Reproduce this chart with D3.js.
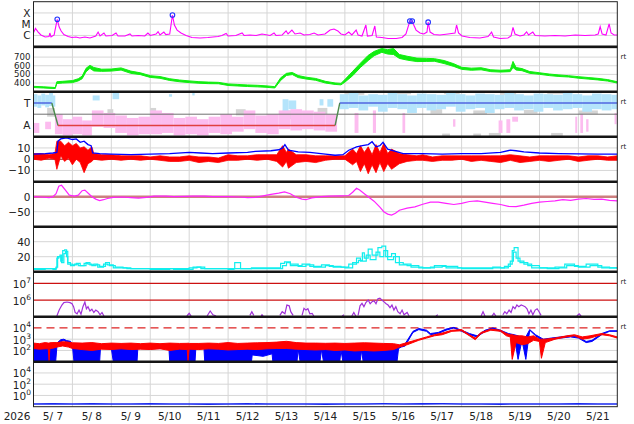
<!DOCTYPE html>
<html lang="en">
<head>
<meta charset="UTF-8">
<title>Space weather summary 2026 May</title>
<style>
  body { margin: 0; background: #fff; }
  svg text { font-family: "DejaVu Sans", sans-serif; fill: #222; }
</style>
<script src="https://d3js.org/d3.v7.min.js"></script>
</head>
<body>
<svg id="chart" width="634" height="424"></svg>
<script>
// time axis: days since 2026-05-07 00:00 UT
const yearLabel = "2026";
const dayLabels = ["5/ 7","5/ 8","5/ 9","5/10","5/11","5/12","5/13","5/14","5/15","5/16","5/17","5/18","5/19","5/20","5/21"];

// panel 1: X-ray flux [day, W/m2], flares marked with circles
const xrayFlux = [[0,1.7e-6],[0.05,4.2e-6],[0.12,2e-6],[0.19,1.1e-6],[0.3,7.3e-7],[0.4,8.1e-7],[0.42,1.65e-6],[0.45,7.3e-7],[0.53,1.1e-6],[0.55,2.5e-6],[0.61,2.7e-5],[0.66,5.6e-6],[0.71,2.5e-6],[0.78,1.2e-6],[0.89,8.1e-7],[0.99,6.6e-7],[1.09,7.3e-7],[1.19,5.9e-7],[1.32,7.3e-7],[1.45,5.9e-7],[1.6,8.9e-7],[1.66,2e-6],[1.71,8.9e-7],[1.81,1.65e-6],[1.86,8.9e-7],[2.02,1e-6],[2.12,1.65e-6],[2.17,8.9e-7],[2.35,8.9e-7],[2.48,1.35e-6],[2.53,8.9e-7],[2.69,1e-6],[2.86,8.9e-7],[2.94,1.65e-6],[3.0,1e-6],[3.15,1.35e-6],[3.2,2.2e-6],[3.25,1.1e-6],[3.35,2e-6],[3.4,1.2e-6],[3.5,1.35e-6],[3.57,6.6e-5],[3.62,8.5e-6],[3.69,3e-6],[3.79,1.65e-6],[3.92,1e-6],[4.07,6.6e-7],[4.28,5.9e-7],[4.48,6.6e-7],[4.61,7.3e-7],[4.74,8.1e-7],[4.84,1e-6],[4.95,1.5e-6],[5.0,8.9e-7],[5.2,1e-6],[5.36,1.65e-6],[5.41,1e-6],[5.56,1.1e-6],[5.72,1e-6],[5.87,1.35e-6],[6.08,1e-6],[6.18,1.65e-6],[6.23,1e-6],[6.39,1.1e-6],[6.49,2.5e-6],[6.54,1.35e-6],[6.64,3e-6],[6.72,1.35e-6],[6.85,1.65e-6],[6.95,1.1e-6],[7.1,1.2e-6],[7.21,1.65e-6],[7.31,1.1e-6],[7.49,1.35e-6],[7.62,3e-6],[7.72,3.7e-6],[7.82,2.5e-6],[7.9,1.35e-6],[8.0,1.1e-6],[8.1,2e-6],[8.18,1.1e-6],[8.29,3e-6],[8.34,1.1e-6],[8.44,8.9e-7],[8.54,8.5e-6],[8.58,8.9e-7],[8.7,1e-6],[8.77,6.9e-6],[8.81,7.3e-7],[8.95,6.6e-7],[9.11,5.4e-7],[9.32,5.4e-7],[9.47,6.6e-7],[9.57,1.35e-6],[9.67,1.9e-5],[9.73,1.9e-5],[9.77,8.5e-6],[9.83,3e-6],[9.93,1.65e-6],[10.03,1.35e-6],[10.11,2e-6],[10.14,1.5e-5],[10.19,2e-6],[10.29,1.2e-6],[10.44,1.1e-6],[10.65,1.35e-6],[10.83,1.65e-6],[10.87,8.5e-6],[10.92,1.65e-6],[11.01,8.9e-7],[11.21,6.6e-7],[11.47,5.9e-7],[11.68,8.1e-7],[11.77,2e-6],[11.82,7.3e-7],[11.99,5.4e-7],[12.19,5.9e-7],[12.27,8.9e-7],[12.32,5.3e-6],[12.37,1.35e-6],[12.5,8.9e-7],[12.6,1.1e-6],[12.67,2.1e-6],[12.72,1.1e-6],[12.83,2e-6],[12.89,1e-6],[13.14,8.9e-7],[13.4,1e-6],[13.66,8.9e-7],[13.92,1.1e-6],[14.17,1e-6],[14.43,1.1e-6],[14.51,1.35e-6],[14.56,6e-6],[14.61,1.35e-6],[14.71,1.1e-6],[14.79,1.05e-5],[14.84,1.65e-6],[14.92,1.1e-6],[15,1.1e-6]];
const xrayFlares = [[0.61,2.7e-5],[3.57,6.6e-5],[9.67,1.9e-5],[9.73,1.9e-5],[10.14,1.5e-5]];
const xrayTicks = [1e-4, 1e-5, 1e-6];
const xrayClasses = ["X", "M", "C"];

// panel 2: solar wind speed [day, low, high] km/s
const windSpeed = [[0,348,362],[0.25,343,357],[0.5,337,350],[0.56,337,348],[0.6,395,415],[0.75,400,420],[1.0,405,428],[1.15,425,450],[1.25,450,480],[1.35,530,570],[1.45,570,605],[1.55,540,580],[1.75,535,560],[2.0,538,562],[2.25,550,575],[2.5,512,538],[2.75,497,518],[3.0,465,485],[3.25,455,475],[3.5,430,450],[3.75,415,435],[4.0,405,425],[4.25,398,416],[4.5,393,411],[4.75,392,408],[5.0,372,390],[5.25,366,384],[5.5,360,378],[5.75,356,374],[6.0,350,367],[6.2,343,358],[6.35,430,460],[6.5,488,512],[6.65,498,522],[6.8,463,487],[7.0,447,468],[7.25,432,453],[7.5,400,420],[7.75,384,401],[7.9,379,396],[8.0,410,440],[8.2,485,535],[8.4,580,630],[8.6,660,720],[8.75,715,765],[8.95,755,800],[9.1,735,785],[9.25,730,800],[9.4,685,730],[9.6,665,710],[9.85,648,688],[10.1,650,685],[10.3,652,682],[10.55,625,660],[10.8,592,623],[11.0,558,582],[11.25,548,572],[11.5,553,577],[11.75,532,553],[12.0,527,548],[12.25,532,553],[12.32,580,650],[12.4,550,580],[12.55,543,567],[12.75,512,533],[13.0,501,519],[13.25,486,504],[13.5,476,494],[13.75,470,485],[14.0,456,474],[14.25,446,464],[14.5,436,454],[14.75,423,440],[15,400,415]];
const speedTicks = [400, 500, 600, 700];

// panel 3: IMF sector, angle in degrees (T near 90, A near 270)
const sectorTimes = [0, 0.47, 0.63, 7.75, 7.87, 15];
const sectorAngles = [90, 90, 270, 270, 90, 90];
// scatter regions [dayFrom, dayTo, angleLow, angleHigh]
const towardDots = [[0,0.1,20,120],[0.1,0.2,30,130],[0.2,0.3,15,110],[0.3,0.4,25,125],[0.4,0.5,10,115],[0.5,0.56,30,120],[1.52,1.7,30,70],[2.03,2.2,10,60],[3.48,3.56,20,40],[4.08,4.14,10,30],[6.4,6.55,60,190],[6.55,6.75,70,140],[7.35,7.45,60,110],[7.55,7.7,60,120],[7.87,8.1,20,140],[8.1,8.35,10,130],[8.35,8.6,30,150],[8.6,8.85,20,120],[8.85,9.1,25,160],[9.1,9.35,10,130],[9.35,9.6,20,140],[9.6,9.85,30,170],[9.85,10.1,15,130],[10.1,10.35,20,150],[10.35,10.6,25,140],[10.6,10.85,10,120],[10.85,11.1,20,160],[11.1,11.35,30,140],[11.35,11.6,15,130],[11.6,11.85,20,170],[11.85,12.1,25,140],[12.1,12.35,10,130],[12.35,12.6,20,150],[12.6,12.85,30,140],[12.85,13.1,15,160],[13.1,13.35,20,130],[13.35,13.6,25,150],[13.6,13.85,10,140],[13.85,14.1,20,130],[14.1,14.35,30,160],[14.35,14.6,15,140],[14.6,14.85,20,150],[14.85,15,25,140]];
const awayDots = [[0,0.15,250,330],[0.3,0.45,240,300],[0.55,0.75,180,340],[0.75,1.0,220,350],[1.0,1.25,200,340],[1.25,1.5,230,350],[1.5,1.8,150,280],[1.8,2.1,170,290],[2.1,2.4,190,330],[2.4,2.7,210,350],[2.7,3.0,200,340],[3.0,3.3,150,340],[3.3,3.6,170,330],[3.6,3.9,210,350],[3.9,4.2,200,340],[4.2,4.5,220,350],[4.5,4.8,200,330],[4.8,5.1,180,340],[5.1,5.4,200,320],[5.4,5.7,150,300],[5.7,6.0,190,330],[6.0,6.3,180,340],[6.3,6.6,150,300],[6.6,6.9,140,310],[6.9,7.2,150,300],[7.2,7.5,160,310],[7.5,7.8,180,320],[8.25,8.35,170,330],[8.72,8.8,150,330],[9.48,9.55,170,330],[10.78,10.84,220,280],[11.95,12.05,230,330],[12.15,12.25,220,330],[12.3,12.45,200,240],[13.92,13.97,200,330],[14.05,14.12,180,330],[14.2,14.26,220,320],[14.93,14.98,170,260]];
const unsetDots = [[0.35,0.55,130,200],[1.9,2.05,140,200],[3.0,3.15,130,180],[5.2,5.45,140,190],[6.4,6.75,150,220],[7.3,7.55,130,180],[8.0,8.5,0,25],[9.2,9.7,0,20],[10.2,10.5,140,175],[10.55,10.95,0,20],[11.3,11.65,150,180],[12.0,12.4,0,25],[12.6,12.95,145,175],[13.2,13.7,0,20],[14.0,14.5,150,180],[10.5,10.7,335,360],[11.3,11.5,335,360],[11.7,12.0,330,360],[13.3,13.6,330,360]];

// panel 4: IMF Bt [day, nT] and Bz [day, low, high]
const imfBt = [[0,4.5],[0.3,5],[0.5,5.5],[0.6,6],[0.63,16],[0.7,18],[0.85,19],[1.0,17.5],[1.1,18],[1.2,15],[1.3,16],[1.4,13],[1.48,12],[1.52,5.5],[1.7,5],[2.0,4.5],[2.5,4],[3.0,4.5],[3.5,5],[4.0,6],[4.3,5.5],[4.6,5],[5.0,5.5],[5.5,6],[5.7,7],[6.1,7.5],[6.3,8.4],[6.4,10],[6.46,13],[6.55,8],[6.8,6.5],[7.1,6],[7.5,4.5],[7.75,3.5],[7.95,4],[8.1,8],[8.3,11],[8.45,12],[8.6,13],[8.7,15.5],[8.8,11],[8.9,12],[8.98,15],[9.1,9],[9.3,7],[9.5,5],[10.0,5],[10.5,4.5],[11.0,5],[11.5,5],[12.0,6],[12.25,8],[12.4,7.5],[12.6,6.5],[13.0,5.5],[13.5,5],[14.0,4.8],[14.5,4.5],[15,4.5]];
const imfBz = [[0,0,5],[0.2,-1,5],[0.4,1,4],[0.55,0,5],[0.6,-9,16],[0.7,3,16],[0.8,-2,12],[0.9,1,15],[1.0,-5,12],[1.1,0,14],[1.2,-3,10],[1.3,-12,11],[1.4,-4,8],[1.5,-2,11],[1.55,0,5],[1.75,-1,4],[2.0,0,4],[2.25,-1,3],[2.5,0,3],[2.75,-1,3],[3.0,0,2],[3.25,-1,3],[3.5,-2,2],[3.75,-2,2],[4.0,-1,3],[4.25,-3,2],[4.5,-2,2],[4.75,-3,1],[5.0,-1,4],[5.25,-1,3],[5.5,0,3],[5.75,-1,4],[6.0,0,4],[6.25,-2,4],[6.4,-7,12],[6.5,-2,6],[6.55,-8,9],[6.75,-3,4],[7.0,-2,4],[7.25,-3,3],[7.5,-1,3],[7.75,0,3],[8.0,0,3],[8.2,-5,9],[8.3,-2,5],[8.4,-11,12],[8.5,-4,6],[8.6,-13,11],[8.7,-5,4],[8.8,-12,13],[8.9,-3,6],[9.0,-11,14],[9.1,-4,5],[9.2,-9,9],[9.4,-4,5],[9.6,-2,4],[9.85,-1,3],[10.0,-1,4],[10.25,-2,2],[10.5,-1,3],[10.75,-1,3],[11.0,0,3],[11.25,-2,3],[11.5,-1,3],[11.75,-2,3],[12.0,-3,3],[12.25,-1,4],[12.5,-3,3],[12.75,-2,2],[13.0,-1,3],[13.25,-2,3],[13.5,-1,3],[13.75,0,3],[14.0,-2,2],[14.25,-1,3],[14.5,0,3],[14.75,-1,2],[15,-1,3]];
const imfTicks = [10, 0, -10];

// panel 5: Dst [day, nT]
const dstIndex = [[0,0],[0.2,-1],[0.4,-3],[0.5,0],[0.58,10],[0.65,35],[0.72,38],[0.8,25],[0.92,5],[1.05,2],[1.15,5],[1.25,20],[1.32,22],[1.42,10],[1.5,0],[1.6,-8],[1.7,-13],[1.8,-10],[1.9,-6],[2.05,-2],[2.3,-1],[2.5,-3],[2.7,-5],[2.9,-2],[3.1,2],[3.4,2],[3.6,0],[3.9,1],[4.1,2],[4.4,2],[4.6,0],[5.0,0],[5.3,-1],[5.5,-3],[5.7,-2],[5.9,3],[6.1,8],[6.3,12],[6.45,16],[6.6,10],[6.75,-2],[6.9,-8],[7.0,-10],[7.15,-4],[7.4,0],[7.6,2],[7.9,3],[8.1,4],[8.2,15],[8.3,28],[8.38,22],[8.5,10],[8.6,0],[8.75,-15],[8.9,-35],[9.0,-50],[9.1,-58],[9.2,-61],[9.3,-55],[9.4,-45],[9.6,-38],[9.8,-34],[10.0,-25],[10.2,-18],[10.4,-18],[10.6,-22],[10.8,-26],[11.0,-22],[11.2,-16],[11.4,-14],[11.6,-18],[11.8,-22],[12.0,-26],[12.2,-32],[12.4,-33],[12.6,-28],[12.8,-22],[13.0,-18],[13.2,-16],[13.4,-14],[13.6,-10],[13.8,-12],[14.0,-8],[14.2,-6],[14.4,-9],[14.6,-8],[14.8,-12],[15,-14]];
const dstTicks = [0, -50];

// panel 6: proton density, two sources [day, /cc]
const densityA = [[0,3],[0.3,4],[0.5,3],[0.58,5],[0.6,18],[0.65,20],[0.7,14],[0.75,28],[0.8,29],[0.85,20],[0.88,12],[0.95,8],[1.05,10],[1.15,8],[1.3,11],[1.4,10],[1.5,8],[1.6,9],[1.7,7],[1.85,12],[1.95,8],[2.1,6],[2.3,5],[2.5,4],[3.0,3],[3.5,4],[4.0,5],[4.2,6],[4.4,4],[5.0,3],[5.15,4],[5.17,12],[5.3,12],[5.32,4],[5.8,4],[6.2,4],[6.4,8],[6.5,12],[6.6,10],[6.8,7],[7.0,9],[7.2,6],[7.5,8],[7.7,6],[8.0,5],[8.2,12],[8.35,15],[8.45,25],[8.5,18],[8.6,30],[8.7,22],[8.85,32],[8.95,34],[9.05,20],[9.2,24],[9.3,12],[9.5,10],[9.7,6],[10.0,5],[10.3,8],[10.6,5],[11.0,4],[11.5,4],[11.8,6],[12.0,5],[12.2,10],[12.3,28],[12.35,32],[12.45,14],[12.6,10],[12.8,5],[13.2,4],[13.5,5],[13.7,8],[14.0,6],[14.3,8],[14.6,5],[15,4]];
const densityB = [[0,4],[0.5,4],[0.58,6],[0.62,20],[0.68,22],[0.72,12],[0.78,24],[0.82,27],[0.88,10],[1.0,9],[1.1,11],[1.2,8],[1.35,12],[1.45,9],[1.55,10],[1.65,6],[1.8,10],[1.9,9],[2.05,5],[2.4,4],[3.0,4],[3.6,3],[4.1,6],[4.3,4],[5.0,4],[5.6,5],[6.1,5],[6.35,11],[6.45,13],[6.6,8],[6.9,10],[7.1,7],[7.4,9],[7.6,7],[7.9,6],[8.1,10],[8.3,18],[8.4,14],[8.55,22],[8.65,16],[8.8,26],[8.9,20],[9.0,28],[9.1,16],[9.25,20],[9.4,9],[9.6,8],[9.9,5],[10.2,6],[10.5,7],[10.9,5],[11.4,5],[11.7,5],[12.1,7],[12.25,14],[12.33,26],[12.4,18],[12.5,12],[12.7,8],[13.0,5],[13.4,6],[13.65,10],[13.9,7],[14.2,10],[14.5,6],[14.8,5],[15,5]];
const densityTicks = [40, 20];

// panel 7: proton flux [day, value], null = below scale
const protonFlux = [[0.55,null],[0.6,1.1e5],[0.66,2.5e5],[0.73,5e5],[0.78,7e5],[0.86,7.6e5],[0.94,7e5],[0.99,6e5],[1.03,4e5],[1.07,1.8e5],[1.12,1.5e5],[1.17,2.5e5],[1.22,1.4e5],[1.27,4e5],[1.32,7.6e5],[1.36,3e5],[1.4,4e5],[1.45,2.2e5],[1.5,2.8e5],[1.55,1.8e5],[1.6,2.5e5],[1.66,2e5],[1.71,1.3e5],[1.76,1.8e5],[1.81,1.1e5],[1.84,null],[3.94,1.1e5],[4.0,1.6e5],[4.05,1.1e5],[4.1,null],[4.46,1.1e5],[4.54,2.2e5],[4.61,1.3e5],[4.69,1.1e5],[4.72,null],[5.56,1.2e5],[5.61,2e5],[5.66,1.2e5],[5.7,null],[5.85,1.1e5],[5.87,1.3e5],[5.9,1.1e5],[5.93,null],[6.33,1.2e5],[6.39,2e5],[6.46,1.5e5],[6.51,5e5],[6.57,4.5e5],[6.61,2e5],[6.67,1.2e5],[6.7,null],[6.9,1.2e5],[6.95,3.2e5],[7.0,2.5e5],[7.05,3e5],[7.1,1.5e5],[7.16,1.6e5],[7.2,1.1e5],[7.23,null],[7.93,1.1e5],[7.98,1.3e5],[8.02,null],[8.18,1.1e5],[8.23,1.8e5],[8.28,1.1e5],[8.3,null],[8.34,1.2e5],[8.39,4.5e5],[8.44,6.3e5],[8.49,4e5],[8.54,7e5],[8.6,1e6],[8.65,6e5],[8.7,8e5],[8.75,9e5],[8.8,6e5],[8.85,1.2e6],[8.9,1.3e6],[8.95,1e6],[9.0,8e5],[9.06,6e5],[9.11,5e5],[9.16,3.5e5],[9.21,5e5],[9.26,2.5e5],[9.31,4e5],[9.36,2e5],[9.42,1.5e5],[9.47,2.5e5],[9.52,1.3e5],[9.6,1.8e5],[9.65,1.1e5],[9.68,null],[10.34,1.1e5],[10.39,1.3e5],[10.42,null],[11.5,1.1e5],[11.55,2e5],[11.6,1.1e5],[11.62,null],[11.78,1.1e5],[11.83,1.6e5],[11.88,1.1e5],[11.9,null],[12.06,1.3e5],[12.11,2e5],[12.16,1.5e5],[12.22,2.5e5],[12.27,1.8e5],[12.32,4e5],[12.37,3e5],[12.42,5e5],[12.47,4e5],[12.53,5e5],[12.58,4.5e5],[12.63,4e5],[12.68,3e5],[12.73,1.5e5],[12.78,2.5e5],[12.83,1.3e5],[12.89,2.5e5],[12.94,3e5],[12.99,2e5],[13.04,1.2e5],[13.07,null],[13.96,1.1e5],[14.02,1.5e5],[14.07,1.1e5]];
const protonLevels = [1e7, 1e6];

// panel 8: electron flux, two satellites [day, low, high]
const electronRed = [[0,150,450],[0.15,130,400],[0.3,140,500],[0.38,140,450],[0.4,12,450],[0.42,150,480],[0.5,160,500],[0.6,200,500],[0.75,250,600],[0.9,200,550],[1.0,150,480],[1.25,120,450],[1.5,100,500],[1.75,130,400],[2.0,120,450],[2.25,140,420],[2.5,120,450],[2.75,130,400],[3.0,120,450],[3.25,140,400],[3.5,100,450],[3.75,130,420],[3.95,120,430],[3.97,12,450],[4.0,130,420],[4.25,120,420],[4.5,140,450],[4.75,130,420],[5.0,110,500],[5.25,120,420],[5.5,130,450],[5.75,120,480],[6.0,140,500],[6.25,150,550],[6.5,150,650],[6.75,130,500],[7.0,120,450],[7.25,110,450],[7.5,120,430],[7.75,100,450],[8.0,110,420],[8.25,90,450],[8.5,100,480],[8.75,90,450],[9.0,100,420],[9.25,120,400],[9.4,200,320],[9.6,320,500],[9.9,800,1000],[10.1,1260,1600],[10.3,2000,2500],[10.5,2500,3500],[10.75,5000,6300],[11.0,5600,7100],[11.2,2000,2500],[11.35,900,1260],[11.5,3200,4000],[11.75,6300,7900],[12.0,5000,6300],[12.15,2000,3200],[12.25,1600,2500],[12.3,16,2500],[12.4,500,2000],[12.55,320,2000],[12.7,400,1600],[12.85,800,2000],[13.0,630,1000],[13.05,20,1000],[13.15,500,1000],[13.4,1000,1260],[13.7,1600,2000],[13.9,2000,2500],[14.1,1000,1600],[14.3,1260,2000],[14.6,2500,3200],[14.8,2000,2500],[15,1260,1600]];
const electronBlue = [[0,10,200],[0.15,10,170],[0.3,10,220],[0.45,10,180],[0.57,10,250],[0.6,200,450],[0.7,600,900],[0.78,800,1000],[0.85,550,750],[0.95,450,650],[1.0,250,400],[1.04,10,260],[1.2,10,200],[1.35,10,230],[1.5,10,200],[1.7,10,220],[1.72,160,230],[2.0,150,220],[2.05,10,220],[2.2,10,190],[2.4,10,230],[2.66,10,200],[2.68,150,210],[3.0,140,200],[3.3,150,210],[3.48,150,200],[3.5,10,200],[3.8,10,230],[4.15,10,210],[4.17,140,200],[4.38,150,210],[4.4,10,230],[4.7,10,200],[5.0,10,240],[5.3,10,200],[5.6,10,220],[5.62,40,200],[5.9,30,220],[6.13,50,200],[6.15,10,230],[6.5,10,260],[6.77,10,220],[6.8,130,200],[6.85,10,210],[7.1,10,200],[7.36,10,220],[7.4,120,200],[7.45,10,200],[7.7,10,220],[7.87,10,200],[7.9,110,190],[7.95,10,210],[8.2,10,190],[8.39,10,220],[8.43,100,200],[8.47,10,210],[8.8,10,230],[9.1,10,200],[9.34,10,230],[9.38,150,250],[9.45,200,260],[9.55,250,400],[9.75,4000,5000],[9.9,7100,8900],[10.1,5000,6300],[10.2,2500,3200],[10.4,3200,4000],[10.6,6300,7900],[10.8,10000,11200],[11.0,5000,6300],[11.2,2500,3200],[11.4,1600,2000],[11.6,5000,6300],[11.8,8900,10000],[12.0,5000,6300],[12.2,2500,3200],[12.35,2000,2500],[12.45,16,2000],[12.55,800,1260],[12.65,16,1600],[12.75,6300,7100],[12.9,2000,2500],[13.1,630,1000],[13.3,1000,1260],[13.55,1260,1600],[13.8,1600,2000],[14.0,1260,1600],[14.2,500,630],[14.35,630,800],[14.6,2500,3200],[14.8,5000,5600],[15,5000,5600]];
const electronTicks = [1e4, 1e3, 1e2];
const electronAlert = 1e4;

// panel 9: bottom flux [day, value]
const bottomFlux = [[0,0.03],[0.5,0.032],[1,0.03],[1.5,0.034],[2,0.031],[2.5,0.03],[3,0.033],[3.5,0.03],[4,0.031],[4.5,0.029],[5,0.03],[5.5,0.032],[6,0.03],[6.5,0.031],[7,0.03],[7.5,0.029],[8,0.03],[8.5,0.031],[9,0.033],[9.5,0.03],[10,0.032],[10.5,0.034],[11,0.031],[11.5,0.03],[12,0.029],[12.5,0.03],[13,0.031],[13.5,0.03],[14,0.032],[14.5,0.03],[15,0.031]];
const bottomTicks = [1e4, 1e2, 1e0];

// panels that carry a real-time mark on the right
const realtimePanels = [1, 2, 3, 6, 7];

const svg = d3.select("#chart");
const x = d3.scaleLinear().domain([0, 15]).range([33.5, 617.3]);
const panelH = 45;
const pTop = i => 1.7 + panelH * i;
const pBot = i => pTop(i) + panelH;

const yX = d3.scaleLog().domain([1e-7, 1e-3]).range([pBot(0), pTop(0)]);
const yV = d3.scaleLinear().domain([300, 820]).range([pBot(1), pTop(1)]);
const yS = d3.scaleLinear().domain([0, 360]).range([pTop(2), pBot(2)]);
const yB = d3.scaleLinear().domain([-20, 20]).range([pBot(3), pTop(3)]);
const yD = d3.scaleLinear().domain([-100, 50]).range([pBot(4), pTop(4)]);
const yN = d3.scaleLinear().domain([0, 60]).range([pBot(5), pTop(5)]);
const yP = d3.scaleLog().domain([1e5, Math.pow(10, 7.7)]).range([pBot(6), pTop(6)]);
const yE = d3.scaleLog().domain([1e1, 1e5]).range([pBot(7), pTop(7)]);
const yG = d3.scaleLog().domain([1e-2, 1e6]).range([pBot(8), pTop(8)]);

// clip regions
const defs = svg.append("defs");
d3.range(9).forEach(i => {
  defs.append("clipPath").attr("id", "clip" + i)
    .append("rect").attr("x", x(0)).attr("y", pTop(i))
    .attr("width", x(15) - x(0)).attr("height", panelH);
});
const panel = i => svg.append("g").attr("clip-path", `url(#clip${i})`);

// grid
const grid = svg.append("g").attr("stroke", "#d6d6d6").attr("stroke-width", 1);
d3.range(1, 15).forEach(d => {
  grid.append("line").attr("x1", x(d)).attr("x2", x(d)).attr("y1", pTop(0)).attr("y2", pBot(8));
});
function hgrid(scale, values) {
  values.forEach(v => grid.append("line").attr("x1", x(0)).attr("x2", x(15)).attr("y1", scale(v)).attr("y2", scale(v)));
}
hgrid(yX, xrayTicks);
hgrid(yV, [400, 500, 600, 700, 800]);
hgrid(yB, [10, -10]);
hgrid(yD, [-50]);
hgrid(yN, densityTicks);
hgrid(yE, [1e3, 1e2]);
hgrid(yG, bottomTicks);

const line = (ys) => d3.line().defined(d => d[1] != null).x(d => x(d[0])).y(d => ys(d[1]));
const band = (ys) => d3.area().x(d => x(d[0])).y0(d => ys(d[1])).y1(d => ys(d[2]));

// 1: X-ray
const p1 = panel(0);
p1.append("path").datum(xrayFlux).attr("d", line(yX)).attr("fill", "none").attr("stroke", "#ff00ff").attr("stroke-width", 1.1);
p1.selectAll("circle").data(xrayFlares).join("circle")
  .attr("cx", d => x(d[0])).attr("cy", d => yX(d[1])).attr("r", 2.3)
  .attr("fill", "none").attr("stroke", "#2233ff").attr("stroke-width", 1.1);

// 2: wind speed
const p2 = panel(1);
p2.append("path").datum(windSpeed).attr("d", band(yV)).attr("fill", "#11ee11").attr("stroke", "#11ee11").attr("stroke-width", 1);

// 3: sector
const p3 = panel(2);
const quad = (g, data, color) => g.append("g").selectAll("rect").data(data).join("rect")
  .attr("x", d => x(d[0])).attr("width", d => x(d[1]) - x(d[0]))
  .attr("y", d => yS(d[2])).attr("height", d => yS(d[3]) - yS(d[2])).attr("fill", color);
quad(p3, unsetDots, "#d4d4d4");
quad(p3, towardDots, "#b4e4fb");
quad(p3, awayDots, "#fcbcef");
p3.append("line").attr("x1", x(0)).attr("x2", x(15)).attr("y1", yS(180)).attr("y2", yS(180)).attr("stroke", "#707070");
d3.range(sectorTimes.length - 1).forEach(k => {
  const a0 = sectorAngles[k], a1 = sectorAngles[k + 1];
  const c = a0 !== a1 ? "#4c8a4c" : (a0 === 90 ? "#5066e0" : "#e04040");
  p3.append("line").attr("x1", x(sectorTimes[k])).attr("x2", x(sectorTimes[k + 1]))
    .attr("y1", yS(a0)).attr("y2", yS(a1)).attr("stroke", c).attr("stroke-width", 1.4);
});

// 4: IMF
const p4 = panel(3);
p4.append("line").attr("x1", x(0)).attr("x2", x(15)).attr("y1", yB(0)).attr("y2", yB(0)).attr("stroke", "#990000");
p4.append("path").datum(imfBz).attr("d", band(yB)).attr("fill", "#ff0000").attr("stroke", "#ff0000").attr("stroke-width", 0.8);
p4.append("path").datum(imfBt).attr("d", line(yB)).attr("fill", "none").attr("stroke", "#0000ff").attr("stroke-width", 1.3);

// 5: Dst
const p5 = panel(4);
p5.append("line").attr("x1", x(0)).attr("x2", x(15)).attr("y1", yD(0)).attr("y2", yD(0)).attr("stroke", "#cc7f7f").attr("stroke-width", 2.5);
p5.append("path").datum(dstIndex).attr("d", line(yD)).attr("fill", "none").attr("stroke", "#ff22ff").attr("stroke-width", 1.2);

// 6: density
const p6 = panel(5);
[densityA, densityB].forEach(s => p6.append("path").datum(s).attr("d", line(yN).curve(d3.curveStepAfter))
  .attr("fill", "none").attr("stroke", "#11eeee").attr("stroke-width", 1.2));

// 7: protons
const p7 = panel(6);
protonLevels.forEach(v => p7.append("line").attr("x1", x(0)).attr("x2", x(15)).attr("y1", yP(v)).attr("y2", yP(v)).attr("stroke", "#cc1111").attr("stroke-width", 1.2));
p7.append("path").datum(protonFlux).attr("d", line(yP)).attr("fill", "none").attr("stroke", "#a030d8").attr("stroke-width", 1.2);

// 8: electrons
const p8 = panel(7);
p8.append("line").attr("x1", x(0)).attr("x2", x(15)).attr("y1", yE(electronAlert)).attr("y2", yE(electronAlert))
  .attr("stroke", "#dd2222").attr("stroke-width", 1.2).attr("stroke-dasharray", "8,5");
p8.append("path").datum(electronBlue).attr("d", band(yE)).attr("fill", "#0000ff").attr("stroke", "#0000ff").attr("stroke-width", 1);
p8.append("path").datum(electronRed).attr("d", band(yE)).attr("fill", "#ff0000").attr("stroke", "#ff0000").attr("stroke-width", 1);

// 9: bottom
const p9 = panel(8);
p9.append("path").datum(bottomFlux).attr("d", line(yG)).attr("fill", "none").attr("stroke", "#1a2aee").attr("stroke-width", 1.6);

// frame and separators
svg.append("rect").attr("x", x(0)).attr("y", pTop(0)).attr("width", x(15) - x(0)).attr("height", 9 * panelH)
  .attr("fill", "none").attr("stroke", "#222").attr("stroke-width", 1);
d3.range(1, 9).forEach(i => svg.append("line").attr("x1", x(0)).attr("x2", x(15)).attr("y1", pTop(i)).attr("y2", pTop(i))
  .attr("stroke", "#151515").attr("stroke-width", 2.6));

// y labels
const lab = svg.append("g").attr("font-size", 10.5).attr("text-anchor", "end");
function plain(scale, values, texts, size) {
  values.forEach((v, k) => lab.append("text").attr("x", 30.5).attr("y", scale(v) + (size ? size * 0.36 : 4))
    .attr("font-size", size || null)
    .text(texts ? texts[k] : String(v).replace("-", "\u2212")));
}
function powers(scale, values) {
  values.forEach(v => {
    const t = lab.append("text").attr("x", 31).attr("y", scale(v) + 4.5);
    t.append("tspan").text("10");
    t.append("tspan").attr("dy", -5).attr("font-size", 7.5).text(Math.round(Math.log10(v)));
  });
}
plain(yX, xrayTicks, xrayClasses);
plain(yV, speedTicks, null, 8.6);
plain(yS, [90, 270], ["T", "A"]);
plain(yB, imfTicks);
plain(yD, dstTicks);
plain(yN, densityTicks);
powers(yP, protonLevels);
powers(yE, electronTicks);
powers(yG, bottomTicks);

// x labels
const xl = svg.append("g").attr("font-size", 10.5).attr("text-anchor", "middle");
xl.append("text").attr("x", 17).attr("y", 420).text(yearLabel);
dayLabels.forEach((s, d) => xl.append("text").attr("x", x(d + 0.5)).attr("y", 420).style("white-space", "pre").text(s));

// right-hand real-time marks
realtimePanels.forEach(i => svg.append("text").attr("x", 620.5).attr("y", pTop(i) + 12).attr("font-size", 7).attr("fill", "#333").text("rt"));
</script>
</body>
</html>
